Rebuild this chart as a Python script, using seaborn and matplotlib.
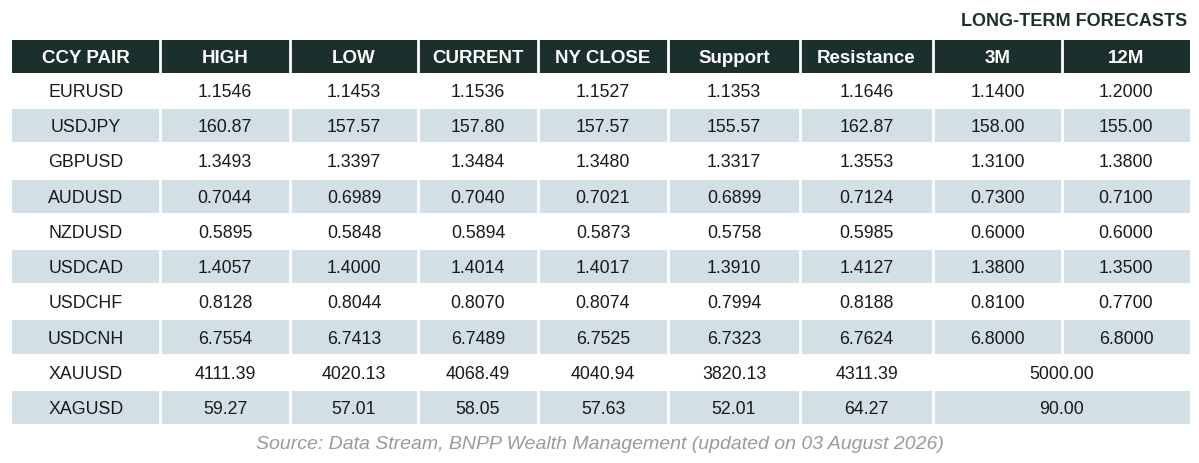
import matplotlib
matplotlib.use("Agg")
import matplotlib.pyplot as plt
import seaborn as sns
from matplotlib.patches import Rectangle

sns.set_theme(style="white")
plt.rcParams['font.family'] = ['Liberation Sans', 'DejaVu Sans']

headers = ["CCY PAIR", "HIGH", "LOW", "CURRENT", "NY CLOSE", "Support", "Resistance", "3M", "12M"]
pairs = ["EURUSD", "USDJPY", "GBPUSD", "AUDUSD", "NZDUSD", "USDCAD", "USDCHF", "USDCNH", "XAUUSD", "XAGUSD"]
high = ["1.1546", "160.87", "1.3493", "0.7044", "0.5895", "1.4057", "0.8128", "6.7554", "4111.39", "59.27"]
low = ["1.1453", "157.57", "1.3397", "0.6989", "0.5848", "1.4000", "0.8044", "6.7413", "4020.13", "57.01"]
current = ["1.1536", "157.80", "1.3484", "0.7040", "0.5894", "1.4014", "0.8070", "6.7489", "4068.49", "58.05"]
ny_close = ["1.1527", "157.57", "1.3480", "0.7021", "0.5873", "1.4017", "0.8074", "6.7525", "4040.94", "57.63"]
support = ["1.1353", "155.57", "1.3317", "0.6899", "0.5758", "1.3910", "0.7994", "6.7323", "3820.13", "52.01"]
resistance = ["1.1646", "162.87", "1.3553", "0.7124", "0.5985", "1.4127", "0.8188", "6.7624", "4311.39", "64.27"]
f3m = ["1.1400", "158.00", "1.3100", "0.7300", "0.6000", "1.3800", "0.8100", "6.8000", "5000.00", "90.00"]
f12m = ["1.2000", "155.00", "1.3800", "0.7100", "0.6000", "1.3500", "0.7700", "6.8000", None, None]

cols = [pairs, high, low, current, ny_close, support, resistance, f3m, f12m]
x_edges = [12, 160, 290, 418, 538, 668, 800, 933, 1062, 1190]

dark = "#1b302d"
stripe = "#d2dfe5"
text_c = "#1a1a1a"

fig = plt.figure(figsize=(11.99, 4.64), dpi=100)
ax = fig.add_axes([0, 0, 1, 1])
ax.set_xlim(0, 1199)
ax.set_ylim(464, 0)
ax.axis("off")

ax.text(1187, 22, "LONG-TERM FORECASTS", ha="right", va="center", fontsize=13,
        fontweight="bold", color=dark)

# header
head_top, head_h = 41, 33
for i, h in enumerate(headers):
    x0, x1 = x_edges[i], x_edges[i + 1]
    ax.add_patch(Rectangle((x0, head_top), x1 - x0, head_h, color=dark, lw=0))
    ax.text((x0 + x1) / 2, head_top + head_h / 2 + 1, h, ha="center", va="center",
            fontsize=13.5, fontweight="bold", color="white")
    if i > 0:
        ax.plot([x0, x0], [head_top, head_top + head_h], color="white", lw=2)

row_top, row_h = 74, 35.2
for r in range(len(pairs)):
    y0 = row_top + r * row_h
    yc = y0 + row_h / 2 + 1
    if r % 2 == 1:
        ax.add_patch(Rectangle((x_edges[0], y0 + 1), x_edges[-1] - x_edges[0], row_h - 2,
                               color=stripe, lw=0))
        for xe in x_edges[1:-1]:
            if f12m[r] is None and xe == x_edges[8]:
                continue
            ax.plot([xe, xe], [y0, y0 + row_h], color="white", lw=2)
    for c, col in enumerate(cols):
        val = col[r]
        if val is None:
            continue
        x0, x1 = x_edges[c], x_edges[c + 1]
        if c == 7 and f12m[r] is None:
            x1 = x_edges[9]
        ax.text((x0 + x1) / 2, yc, val, ha="center", va="center", fontsize=12.8, color=text_c)

ax.text(600, 445, "Source: Data Stream, BNPP Wealth Management (updated on 03 August 2026)",
        ha="center", va="center", fontsize=14, style="italic", color="#9a9a9a")

fig.savefig("out.png", dpi=100)
